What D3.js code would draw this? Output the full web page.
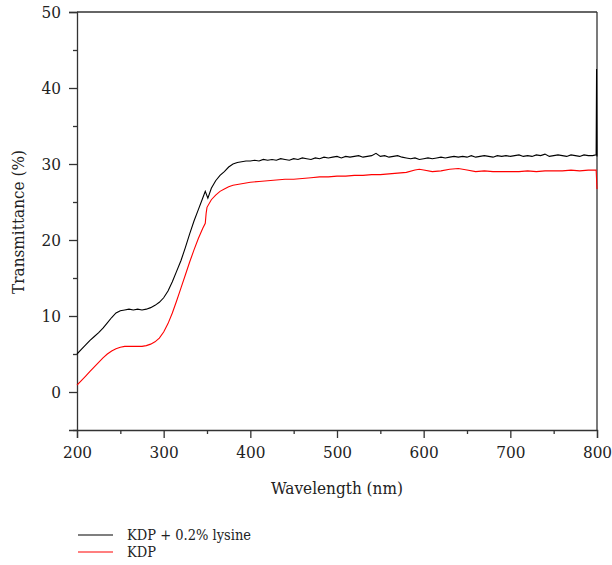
<!DOCTYPE html>
<html><head><meta charset="utf-8">
<script src="https://cdn.jsdelivr.net/npm/d3@7"></script>
<style>body{margin:0;background:#fff}</style>
</head><body><svg id="c" width="612" height="565"></svg>
<script>
const blackWl = [200,205,210,215,220,225,230,235,240,245,250,255,260,265,270,275,280,285,290,295,300,305,310,315,320,325,330,335,340,345,348,351,355,360,365,370,375,380,385,390,395,400,405,410,415,420,425,430,435,440,445,450,455,460,465,470,475,480,485,490,495,500,505,510,515,520,525,530,535,540,545,550,555,560,565,570,575,580,585,590,595,600,605,610,615,620,625,630,635,640,645,650,655,660,665,670,675,680,685,690,695,700,705,710,715,720,725,730,735,740,745,750,755,760,765,770,775,780,785,790,795,799,799.5,800];
const blackT = [5.0,5.6,6.2,6.8,7.3,7.8,8.4,9.1,9.8,10.4,10.7,10.8,10.9,10.8,10.9,10.8,10.9,11.1,11.4,11.8,12.4,13.3,14.5,15.9,17.3,19.0,20.8,22.5,24.0,25.5,26.4,25.5,26.8,27.8,28.5,29.0,29.6,30.0,30.2,30.3,30.4,30.4,30.5,30.4,30.6,30.5,30.6,30.5,30.7,30.6,30.5,30.7,30.6,30.8,30.7,30.6,30.8,30.7,30.9,30.8,30.9,31.0,30.8,31.0,30.9,31.0,31.1,30.9,31.0,31.1,31.4,31.0,31.1,30.9,31.0,31.1,30.9,30.8,30.7,30.8,30.6,30.7,30.8,30.7,30.8,30.9,30.8,30.9,31.0,30.9,31.0,30.9,31.1,30.9,31.0,31.1,31.0,30.9,31.1,31.0,31.1,31.0,31.1,31.2,31.0,31.1,31.0,31.2,31.1,31.3,31.0,31.1,31.2,31.1,31.0,31.2,31.1,31.0,31.2,31.1,31.1,31.2,42.5,31.0];
const redWl = [200,205,210,215,220,225,230,235,240,245,250,255,260,265,270,275,280,285,290,295,300,305,310,315,320,325,330,335,340,345,348,349,350,355,360,365,370,375,380,385,390,395,400,410,420,430,440,450,460,470,480,490,500,510,520,530,540,550,560,570,580,590,595,600,610,620,630,640,650,660,670,680,690,700,710,720,730,740,750,760,770,780,790,799,800];
const redT = [0.9,1.5,2.1,2.7,3.3,3.9,4.5,5.0,5.4,5.7,5.9,6.0,6.0,6.0,6.0,6.0,6.1,6.3,6.6,7.1,7.9,9.0,10.4,12.0,13.7,15.4,17.1,18.7,20.2,21.5,22.2,23.5,24.3,25.3,25.9,26.4,26.7,27.0,27.2,27.3,27.4,27.5,27.6,27.7,27.8,27.9,28.0,28.0,28.1,28.2,28.3,28.3,28.4,28.4,28.5,28.5,28.6,28.6,28.7,28.8,28.9,29.2,29.3,29.2,29.0,29.1,29.3,29.4,29.2,29.0,29.1,29.0,29.0,29.0,29.0,29.1,29.0,29.1,29.1,29.1,29.2,29.1,29.2,29.2,26.7];
const xTicks = [200,300,400,500,600,700,800];
const xMinor = [250,350,450,550,650,750];
const yTicks = [0,10,20,30,40,50];
const yMinor = [-5,5,15,25,35,45];
const seriesNames = ["KDP + 0.2% lysine","KDP"];
const seriesColors = ["#000000","#ff0000"];

const FONT = "'DejaVu Serif Condensed','DejaVu Serif',serif";
const svg = d3.select("#c");
const x = d3.scaleLinear().domain([200,800]).range([77,597]);
const y = d3.scaleLinear().domain([-5,50]).range([430,12]);
const axisColor = "#333";

svg.append("line").attr("x1",77).attr("x2",597).attr("y1",12).attr("y2",12).attr("stroke",axisColor).attr("stroke-width",1.3);
svg.append("line").attr("x1",597).attr("x2",597).attr("y1",12).attr("y2",430).attr("stroke",axisColor).attr("stroke-width",1.3);

svg.append("g").attr("transform","translate(0,430)")
  .call(d3.axisBottom(x).tickValues(xTicks).tickSize(8).tickPadding(8).tickFormat(d3.format("d")));
svg.append("g").attr("transform","translate(0,430)")
  .call(d3.axisBottom(x).tickValues(xMinor).tickSize(4).tickFormat(""))
  .select(".domain").remove();
svg.append("g").attr("transform","translate(77,0)")
  .call(d3.axisLeft(y).tickValues(yTicks).tickSize(8).tickPadding(8).tickFormat(d3.format("d")));
svg.append("g").attr("transform","translate(77,0)")
  .call(d3.axisLeft(y).tickValues(yMinor).tickSize(4).tickFormat(""))
  .select(".domain").remove();
svg.selectAll("g").attr("font-family",FONT);
svg.selectAll(".domain").attr("stroke",axisColor).attr("stroke-width",1.3);
svg.selectAll(".tick line").attr("stroke",axisColor).attr("stroke-width",1.3);
svg.selectAll(".tick text").attr("font-family",FONT).attr("font-size",17).attr("fill","#222");

const line = d3.line().x(d=>x(d[0])).y(d=>y(d[1]));
const redData = redWl.map((w,i)=>[w,redT[i]]);
const blackData = blackWl.map((w,i)=>[w,blackT[i]]);
svg.append("path").datum(redData).attr("d",line).attr("fill","none").attr("stroke",seriesColors[1]).attr("stroke-width",1.1);
svg.append("path").datum(blackData).attr("d",line).attr("fill","none").attr("stroke",seriesColors[0]).attr("stroke-width",1.1);

svg.append("text").attr("x",337).attr("y",494).attr("text-anchor","middle").attr("font-family",FONT).attr("font-size",17).attr("fill","#222").text("Wavelength (nm)");
svg.append("text").attr("transform","translate(24,222) rotate(-90)").attr("text-anchor","middle").attr("font-family",FONT).attr("font-size",17).attr("fill","#222").text("Transmittance (%)");

seriesNames.forEach((n,i)=>{
  const yy = 535 + i*17;
  svg.append("line").attr("x1",78).attr("x2",113).attr("y1",yy).attr("y2",yy).attr("stroke",seriesColors[i]).attr("stroke-width",1.2);
  svg.append("text").attr("x",127).attr("y",yy+5).attr("font-family",FONT).attr("font-size",14.5).attr("fill","#222").text(n);
});
</script></body></html>
